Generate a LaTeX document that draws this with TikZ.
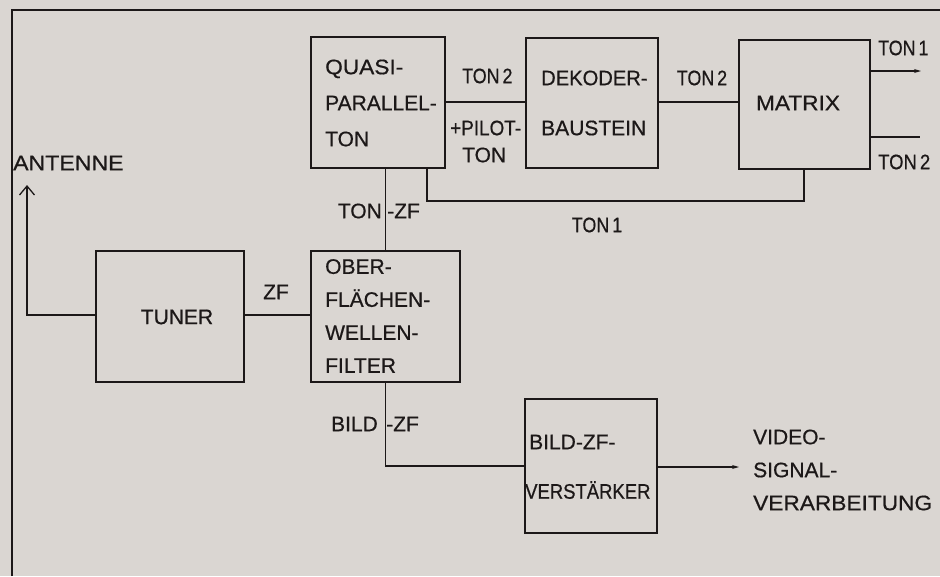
\documentclass[tikz,border=0pt]{standalone}
\usepackage{fontspec}
\setmainfont[FakeBold=0.6]{Liberation Sans}
\usetikzlibrary{arrows.meta}
\definecolor{paper}{RGB}{218,214,210}
\definecolor{ink}{RGB}{28,24,24}
\tikzset{
  blk/.style={draw=ink, line width=1.9pt, inner sep=0pt, outer sep=0pt},
  wire/.style={draw=ink, line width=1.1pt},
  frame/.style={draw=ink, line width=2.2pt},
  txt/.style={text=ink, inner sep=0pt, font=\fontsize{21}{25}\selectfont},
  arr/.style={-{Stealth[length=7pt,width=4pt]}},
  barb/.style={-{Straight Barb[length=9pt,width=15pt,line width=1.3pt]}}
}
\begin{document}
\begin{tikzpicture}[x=1pt,y=-1pt]
\fill[paper] (0,0) rectangle (940,576);
\useasboundingbox (0,0) rectangle (940,576);
% frame
\draw[frame] (12,576) -- (12,10) -- (940,10);
% boxes
\node[blk, minimum width=134pt, minimum height=131pt] (qpt) at (378,102.5) {};
\node[blk, minimum width=132pt, minimum height=130pt] (dek) at (592,103) {};
\node[blk, minimum width=131pt, minimum height=129pt] (mat) at (804.5,104.5) {};
\node[blk, minimum width=148pt, minimum height=131pt] (tun) at (170,316.5) {};
\node[blk, minimum width=149pt, minimum height=131pt] (ofw) at (385.5,316.5) {};
\node[blk, minimum width=132pt, minimum height=134pt] (bzf) at (591,466) {};
% box texts
\node[txt, anchor=west, align=left, font=\fontsize{21}{36}\selectfont] (tqpt) at (325,103) {\scalebox{1.08}[1]{QUASI-}\\PARALLEL-\\TON};
\node[txt, anchor=west, align=left, font=\fontsize{21}{50}\selectfont] (tdek) at (541,103) {\scalebox{0.96}[1]{DEKODER-}\\BAUSTEIN};
\node[txt] (tmat) at (798,103) {\scalebox{1.08}[1]{MATRIX}};
\node[txt] (ttun) at (177,317) {TUNER};
\node[txt, anchor=west, align=left, font=\fontsize{21}{33}\selectfont] (tofw) at (325,316) {OBER-\\FLÄCHEN-\\WELLEN-\\FILTER};
\node[txt, anchor=west] (tbzf1) at (529,442) {BILD-ZF-};
\node[txt, anchor=west] (tbzf2) at (525,490) {\scalebox{0.88}[1]{VERSTÄRKER}};
% coordinates
\coordinate (o1) at (921,71);
\coordinate (o2) at (920,137);
\coordinate (fbk) at (427,201);
\coordinate (ant) at (27,185);
\coordinate (vid) at (739,467);
% connectors
\draw[wire] (qpt.east |- 0,102) -- (dek.west |- 0,102);
\draw[wire] (dek.east |- 0,102) -- (mat.west |- 0,102);
\draw[wire, arr] (mat.east |- o1) -- (o1);
\draw[wire] (mat.east |- o2) -- (o2);
\draw[wire] (mat.south -| 804,0) |- (fbk) -- (fbk |- qpt.south);
\draw[wire] (ofw.north) -- (ofw.north |- qpt.south);
\draw[wire] (tun.east |- 0,315) -- (ofw.west |- 0,315);
\draw[wire, barb] (tun.west |- 0,315) -| (ant);
\draw[wire] (ofw.south) |- (bzf.west);
\draw[wire, arr] (bzf.east |- vid) -- (vid);
% labels
\node[txt, anchor=west] (l1) at (462,76) {\scalebox{0.85}[1]{TON\,2}};
\node[txt, anchor=west] (l2) at (450,128) {\scalebox{0.9}[1]{+PILOT-}};
\node[txt, anchor=west] (l3) at (462,155) {TON};
\node[txt] (l4) at (702,78) {\scalebox{0.85}[1]{TON\,2}};
\node[txt, anchor=west] (l5) at (878,48) {\scalebox{0.85}[1]{TON\,1}};
\node[txt, anchor=west] (l6) at (878,162) {\scalebox{0.88}[1]{TON\,2}};
\node[txt] (l7) at (597,225) {\scalebox{0.85}[1]{TON\,1}};
\node[txt, anchor=east] (l8) at (382,211) {TON};
\node[txt, anchor=west] (l9) at (387,211) {-ZF};
\node[txt, anchor=west] (l10) at (13,163) {\scalebox{1.1}[1]{ANTENNE}};
\node[txt] (l11) at (276,292) {ZF};
\node[txt, anchor=east] (l12) at (378,424) {BILD};
\node[txt, anchor=west] (l13) at (386,424) {-ZF};
\node[txt, anchor=west, align=left, font=\fontsize{21}{33}\selectfont] (l14) at (753,470) {VIDEO-\\SIGNAL-\\\scalebox{1.08}[1]{VERARBEITUNG}};
\end{tikzpicture}
\end{document}
